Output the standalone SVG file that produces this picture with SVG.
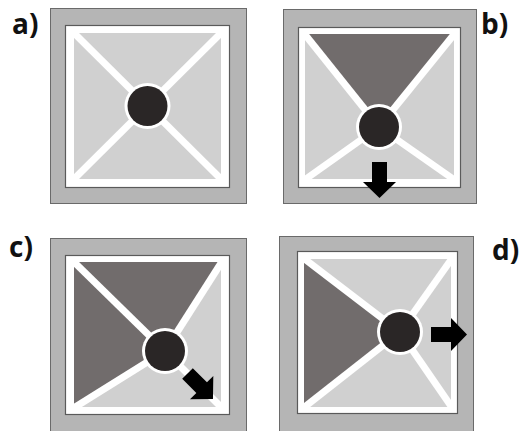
<svg xmlns="http://www.w3.org/2000/svg" width="522" height="431" viewBox="0 0 522 431">
<style>
.outer{fill:#b5b5b5;stroke:#6a6a6a;stroke-width:1}
.inner{fill:#ffffff;stroke:#5a5a5a;stroke-width:1.2}
.field{fill:#d0d0d0}
.dark{fill:#716c6c}
.spoke{stroke:#ffffff;stroke-width:7;stroke-linecap:butt}
.ring{fill:#ffffff}
.ball{fill:#2a2626}
.arrow{fill:#000000}
.lbl{font-family:"Open Sans","Liberation Sans",sans-serif;font-weight:bold;font-size:28px;fill:#111111}
</style>
<defs>
<path id="arr" d="M0,-7.5 H20 V-16.5 L36,0 L20,16.5 V7.5 H0 Z"/>
</defs>
<rect width="522" height="431" fill="#ffffff"/>

<g id="panel-a">
<rect class="outer" x="50.5" y="8.5" width="196" height="195"/>
<rect class="inner" x="65.5" y="25.5" width="164" height="162"/>
<rect class="field" x="74" y="33" width="147" height="146"/>
<g class="spoke">
<line x1="72" y1="31" x2="147.5" y2="106"/>
<line x1="223" y1="31" x2="147.5" y2="106"/>
<line x1="72" y1="181" x2="147.5" y2="106"/>
<line x1="223" y1="181" x2="147.5" y2="106"/>
</g>
<circle class="ring" cx="147.5" cy="106" r="23"/>
<circle class="ball" cx="147.5" cy="106" r="20"/>
<text class="lbl" x="12" y="34">a)</text>
</g>

<g id="panel-b">
<rect class="outer" x="283.5" y="9.5" width="193" height="194"/>
<rect class="inner" x="298.5" y="27.5" width="162" height="160"/>
<rect class="field" x="305" y="34" width="149" height="145"/>
<polygon class="dark" points="305,34 454,34 379,127"/>
<g class="spoke">
<line x1="303" y1="32" x2="379" y2="127"/>
<line x1="456" y1="32" x2="379" y2="127"/>
<line x1="303" y1="181" x2="379" y2="127"/>
<line x1="456" y1="181" x2="379" y2="127"/>
</g>
<circle class="ring" cx="379" cy="127" r="23"/>
<circle class="ball" cx="379" cy="127" r="20"/>
<use href="#arr" class="arrow" transform="translate(379.5,162) rotate(90)"/>
<text class="lbl" x="481" y="34">b)</text>
</g>

<g id="panel-c">
<rect class="outer" x="50.5" y="238.5" width="196" height="200"/>
<rect class="inner" x="65.5" y="255.5" width="164" height="159"/>
<rect class="field" x="74" y="262" width="147" height="145"/>
<polygon class="dark" points="74,262 221,262 165,351 74,407"/>
<g class="spoke">
<line x1="72" y1="260" x2="165" y2="351"/>
<line x1="223" y1="260" x2="165" y2="351"/>
<line x1="72" y1="409" x2="165" y2="351"/>
<line x1="223" y1="409" x2="165" y2="351"/>
</g>
<circle class="ring" cx="165" cy="351" r="23"/>
<circle class="ball" cx="165" cy="351" r="20"/>
<use href="#arr" class="arrow" transform="translate(187.5,373.5) rotate(45)"/>
<text class="lbl" x="9" y="257">c)</text>
</g>

<g id="panel-d">
<rect class="outer" x="279.5" y="236.5" width="194" height="200"/>
<rect class="inner" x="297.5" y="251.5" width="160" height="162"/>
<rect class="field" x="304" y="259" width="147" height="148"/>
<polygon class="dark" points="304,259 400,332 304,407"/>
<g class="spoke">
<line x1="302" y1="257" x2="400" y2="332"/>
<line x1="453" y1="257" x2="400" y2="332"/>
<line x1="302" y1="409" x2="400" y2="332"/>
<line x1="453" y1="409" x2="400" y2="332"/>
</g>
<circle class="ring" cx="400" cy="332" r="23"/>
<circle class="ball" cx="400" cy="332" r="20"/>
<use href="#arr" class="arrow" transform="translate(431,334.5)"/>
<text class="lbl" x="492" y="260">d)</text>
</g>
</svg>
